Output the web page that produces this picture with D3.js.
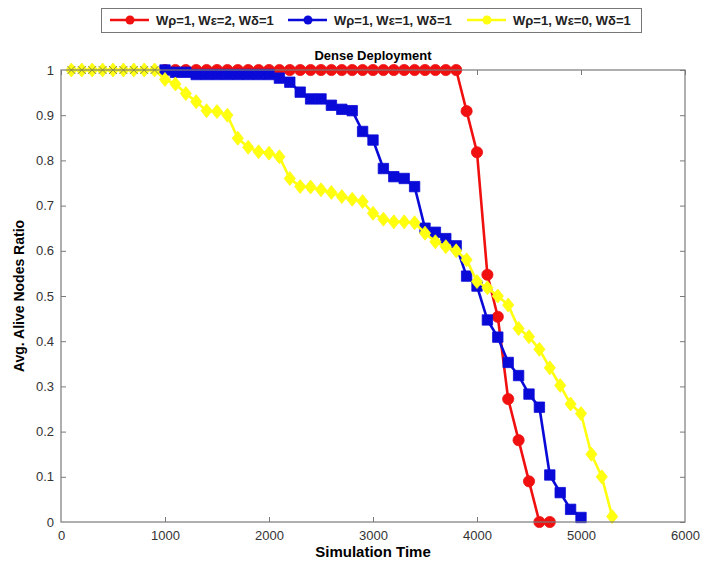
<!DOCTYPE html>
<html>
<head>
<meta charset="utf-8">
<script src="https://cdn.jsdelivr.net/npm/d3@7"></script>
<style>
  body { margin: 0; background: #fff; }
  text { font-family: Arial, "Liberation Sans", sans-serif; }
</style>
</head>
<body>
<script>
// ---- data ----
var seriesNames = ["Wρ=1, Wε=2, Wδ=1", "Wρ=1, Wε=1, Wδ=1", "Wρ=1, Wε=0, Wδ=1"];
var seriesColors = ["#f01010", "#0a0ad8", "#ffff10"];
var seriesMarkers = ["circle", "square", "diamond"];

var redTimes = [1000,1100,1200,1300,1400,1500,1600,1700,1800,1900,2000,2100,2200,2300,2400,2500,2600,2700,2800,2900,3000,3100,3200,3300,3400,3500,3600,3700,3800,3900,4000,4100,4200,4300,4400,4500,4600,4700];
var redValues = [1,1,1,1,1,1,1,1,1,1,1,1,1,1,1,1,1,1,1,1,1,1,1,1,1,1,1,1,1,0.909,0.818,0.547,0.454,0.272,0.181,0.09,0,0];

var blueTimes = [1000,1100,1200,1300,1400,1500,1600,1700,1800,1900,2000,2100,2200,2300,2400,2500,2600,2700,2800,2900,3000,3100,3200,3300,3400,3500,3600,3700,3800,3900,4000,4100,4200,4300,4400,4500,4600,4700,4800,4900,5000];
var blueValues = [1,0.995,0.995,0.99,0.99,0.99,0.99,0.99,0.99,0.99,0.99,0.982,0.973,0.951,0.936,0.936,0.922,0.913,0.91,0.864,0.845,0.782,0.764,0.76,0.742,0.65,0.641,0.627,0.611,0.544,0.522,0.447,0.409,0.353,0.324,0.283,0.254,0.104,0.065,0.028,0.01];

var yellowTimes = [100,200,300,400,500,600,700,800,900,1000,1100,1200,1300,1400,1500,1600,1700,1800,1900,2000,2100,2200,2300,2400,2500,2600,2700,2800,2900,3000,3100,3200,3300,3400,3500,3600,3700,3800,3900,4000,4100,4200,4300,4400,4500,4600,4700,4800,4900,5000,5100,5200,5300];
var yellowValues = [1,1,1,1,1,1,1,1,1,0.979,0.969,0.948,0.93,0.91,0.908,0.9,0.849,0.829,0.819,0.816,0.808,0.76,0.742,0.741,0.735,0.729,0.72,0.714,0.709,0.683,0.67,0.664,0.664,0.662,0.639,0.62,0.609,0.6,0.58,0.532,0.518,0.5,0.48,0.428,0.41,0.382,0.341,0.302,0.261,0.24,0.15,0.1,0.012];

var xTicks = [0,1000,2000,3000,4000,5000,6000];
var yTicks = [0,0.1,0.2,0.3,0.4,0.5,0.6,0.7,0.8,0.9,1];

var margin = {top: 70, right: 19, bottom: 46, left: 61},
    width = 704 - margin.left - margin.right,
    height = 568 - margin.top - margin.bottom;

var svg = d3.select("body")
    .append("svg")
    .attr("width", 704)
    .attr("height", 568);

var g = svg.append("g")
    .attr("transform", "translate(" + margin.left + "," + margin.top + ")");

var x = d3.scaleLinear().domain([0, 6000]).range([0, width]),
    y = d3.scaleLinear().domain([0, 1]).range([height, 0]);

var series = [
  {times: redTimes, values: redValues},
  {times: blueTimes, values: blueValues},
  {times: yellowTimes, values: yellowValues}
].map(function(s, i) {
  return {
    name: seriesNames[i], color: seriesColors[i], marker: seriesMarkers[i],
    values: s.times.map(function(t, j) { return {t: t, v: s.values[j]}; })
  };
});

var line = d3.line()
    .x(function(d) { return x(d.t); })
    .y(function(d) { return y(d.v); });

function markerPath(type, s) {
  if (type == "circle") return d3.symbol().type(d3.symbolCircle).size(Math.PI * s * s)();
  if (type == "square") return "M" + (-s) + "," + (-s) + "h" + (2 * s) + "v" + (2 * s) + "h" + (-2 * s) + "Z";
  return "M0," + (-s * 1.25) + "L" + s + ",0L0," + (s * 1.25) + "L" + (-s) + ",0Z";
}

// axes: ticks point inward, on all four sides
var axisColor = "#7a7a7a";
var gx = g.append("g")
    .attr("transform", "translate(0," + height + ")")
    .call(d3.axisBottom(x).tickValues(xTicks).tickSizeInner(-5).tickSizeOuter(0).tickPadding(9)
      .tickFormat(d3.format("d")));
var gy = g.append("g")
    .call(d3.axisLeft(y).tickValues(yTicks).tickSizeInner(-5).tickSizeOuter(0).tickPadding(7)
      .tickFormat(function(d) { return d === 0 || d === 1 ? d : d3.format(".1f")(d); }));
var gt = g.append("g")
    .call(d3.axisTop(x).tickValues(xTicks).tickSizeInner(-5).tickSizeOuter(0).tickFormat(""));
var gr = g.append("g")
    .attr("transform", "translate(" + width + ",0)")
    .call(d3.axisRight(y).tickValues(yTicks).tickSizeInner(-5).tickSizeOuter(0).tickFormat(""));

[gx, gy, gt, gr].forEach(function(a) {
  a.select(".domain").remove();
  a.selectAll("line").attr("stroke", axisColor);
  a.selectAll("text").attr("fill", "#333").style("font-size", "13px");
});
gx.selectAll(".tick").filter(function(d) { return d === 0 || d === 6000; }).select("line").remove();
gy.selectAll(".tick").filter(function(d) { return d === 0 || d === 1; }).select("line").remove();

// the lines
var sg = g.selectAll(".series")
    .data(series)
    .enter().append("g")
    .attr("class", "series");

sg.append("path")
    .attr("fill", "none")
    .attr("stroke", function(d) { return d.color; })
    .attr("stroke-width", 2.6)
    .attr("stroke-linejoin", "round")
    .attr("d", function(d) { return line(d.values); });

sg.each(function(s) {
  d3.select(this).selectAll(".pt")
    .data(s.values)
    .enter().append("path")
    .attr("class", "pt")
    .attr("transform", function(d) { return "translate(" + x(d.t) + "," + y(d.v) + ")"; })
    .attr("d", markerPath(s.marker, s.marker == "square" ? 5.2 : 5.6))
    .attr("fill", s.color)
    .attr("stroke", s.color)
    .attr("stroke-width", 0.8)
    .attr("stroke-linejoin", "round");
});

// frame drawn over the data
g.append("rect")
    .attr("width", width)
    .attr("height", height)
    .attr("fill", "none")
    .attr("stroke", axisColor)
    .attr("stroke-width", 1.2);

// small crosses on the lone yellow points along the top edge
g.selectAll(".cross")
    .data(series[2].values.filter(function(d) { return d.t < 1000; }))
    .enter().append("path")
    .attr("class", "cross")
    .attr("transform", function(d) { return "translate(" + x(d.t) + "," + y(d.v) + ")"; })
    .attr("d", "M-4,-4L4,4M-4,4L4,-4")
    .attr("stroke", "#8a8a40")
    .attr("stroke-width", 1);

// title and axis labels
svg.append("text")
    .attr("x", margin.left + width / 2)
    .attr("y", 60)
    .attr("text-anchor", "middle")
    .style("font-size", "13px")
    .style("font-weight", "bold")
    .text("Dense Deployment");

svg.append("text")
    .attr("x", margin.left + width / 2)
    .attr("y", 557)
    .attr("text-anchor", "middle")
    .style("font-size", "15px")
    .style("font-weight", "bold")
    .text("Simulation Time");

svg.append("text")
    .attr("transform", "translate(24," + (margin.top + height / 2) + ") rotate(-90)")
    .attr("text-anchor", "middle")
    .style("font-size", "14px")
    .style("font-weight", "bold")
    .text("Avg. Alive Nodes Ratio");

// legend
var legendX = [110, 288, 467];
var legend = svg.append("g");
legend.append("rect")
    .attr("x", 101.5).attr("y", 8.5)
    .attr("width", 540).attr("height", 24)
    .attr("fill", "#fff")
    .attr("stroke", "#777")
    .attr("stroke-width", 1);

var li = legend.selectAll(".li")
    .data(series)
    .enter().append("g")
    .attr("class", "li")
    .attr("transform", function(d, i) { return "translate(" + legendX[i] + ",20)"; });

li.append("line")
    .attr("x1", 0).attr("x2", 39)
    .attr("stroke", function(d) { return d.color; })
    .attr("stroke-width", 2.4);
li.append("path")
    .attr("transform", "translate(20,0)")
    .attr("d", function(d) { return markerPath("circle", 4.5); })
    .attr("fill", function(d) { return d.color; });
li.append("text")
    .attr("x", 46)
    .attr("dy", "0.36em")
    .style("font-size", "13px")
    .style("font-weight", "bold")
    .attr("fill", "#222")
    .text(function(d) { return d.name; });
</script>
</body>
</html>
